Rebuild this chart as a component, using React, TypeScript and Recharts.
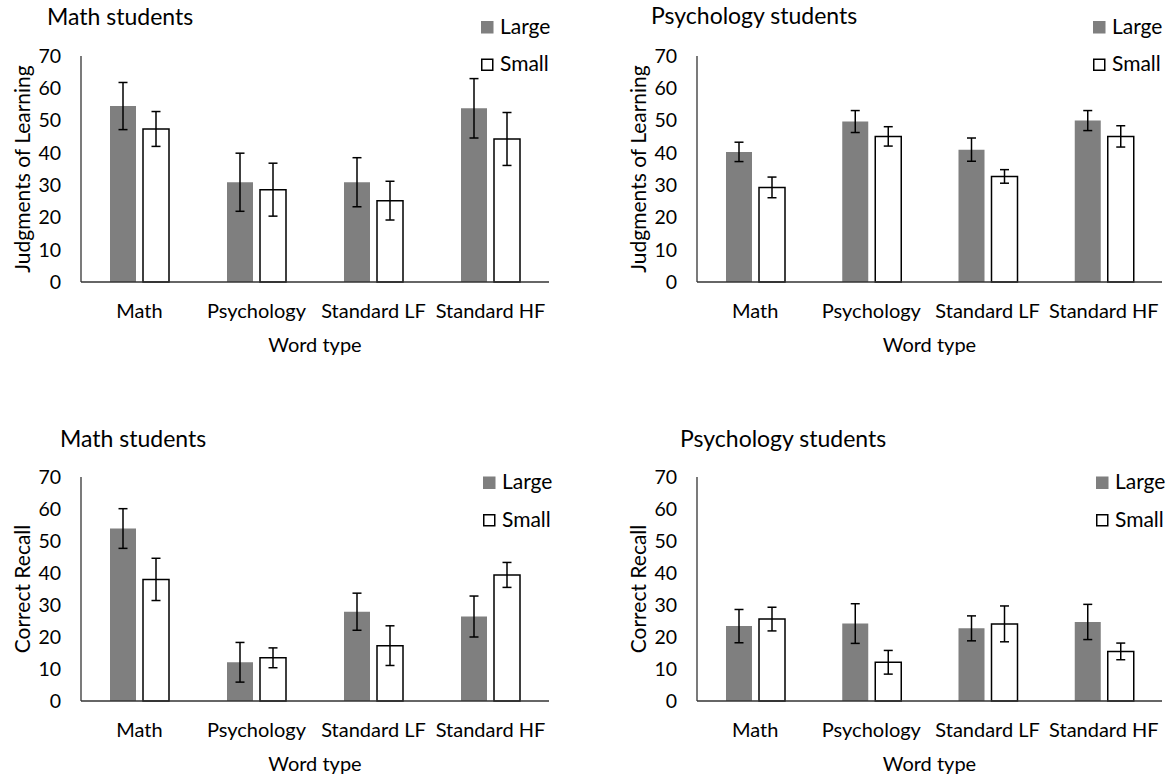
import { BarChart, Bar, XAxis, YAxis, ErrorBar } from 'recharts';

// Shared categories and axis ticks
const wordTypes = ['Math', 'Psychology', 'Standard LF', 'Standard HF'];
const yTicks = [0, 10, 20, 30, 40, 50, 60, 70];
const seriesNames = ['Large', 'Small'];

// Judgments of learning, math students
const jolMathLarge = [54.5, 30.9, 30.9, 53.8];
const jolMathLargeErr = [7.3, 9.0, 7.6, 9.2];
const jolMathSmall = [47.4, 28.6, 25.2, 44.3];
const jolMathSmallErr = [5.4, 8.2, 6.0, 8.2];

// Judgments of learning, psychology students
const jolPsychLarge = [40.3, 49.7, 41.0, 50.0];
const jolPsychLargeErr = [3.0, 3.4, 3.6, 3.1];
const jolPsychSmall = [29.3, 45.1, 32.7, 45.1];
const jolPsychSmallErr = [3.2, 3.0, 2.1, 3.3];

// Correct recall, math students
const recallMathLarge = [53.9, 12.1, 27.9, 26.4];
const recallMathLargeErr = [6.2, 6.2, 5.8, 6.4];
const recallMathSmall = [38.0, 13.5, 17.3, 39.4];
const recallMathSmallErr = [6.6, 3.1, 6.2, 3.9];

// Correct recall, psychology students
const recallPsychLarge = [23.4, 24.2, 22.7, 24.7];
const recallPsychLargeErr = [5.2, 6.2, 3.9, 5.5];
const recallPsychSmall = [25.6, 12.1, 24.1, 15.5];
const recallPsychSmallErr = [3.7, 3.7, 5.6, 2.6];

const FONT = 'Lato, "Open Sans", sans-serif';
const LARGE_FILL = '#7f7f7f';
const AXIS_COLOR = '#333';
const X_AXIS_HEIGHT = 30;

const buildRows = (large: number[], largeErr: number[], small: number[], smallErr: number[]) =>
  wordTypes.map((word, i) => ({
    word,
    large: large[i],
    largeErr: largeErr[i],
    small: small[i],
    smallErr: smallErr[i],
  }));

type Box = {
  left: number;
  top: number;
  width: number;
  height: number;
  plotLeft: number;
  plotTop: number;
  plotRight: number;
  plotBottom: number;
  titleX: number;
  titleY: number;
  legendX: number;
  legendY: number;
};

type PanelProps = {
  title: string;
  yLabel: string;
  rows: ReturnType<typeof buildRows>;
  box: Box;
};

const text = (size: number) => ({ fontFamily: FONT, fontSize: size, fill: '#000' });

const StudentPanel = ({ title, yLabel, rows, box }: PanelProps) => {
  const { left, top, width, height, plotLeft, plotTop, plotRight, plotBottom } = box;

  return (
    <div style={{ position: 'absolute', left, top, width, height }}>
      <BarChart
        width={width}
        height={height}
        data={rows}
        margin={{ top: plotTop, right: width - plotRight, bottom: height - plotBottom - X_AXIS_HEIGHT, left: 0 }}
        barSize={26}
        barGap={7}
      >
        <XAxis
          dataKey="word"
          interval={0}
          height={X_AXIS_HEIGHT}
          tickSize={0}
          tickMargin={22}
          tickLine={false}
          axisLine={{ stroke: AXIS_COLOR, strokeWidth: 1.3 }}
          tick={text(20)}
          label={(props: any) => {
            const vb = props.viewBox || {};
            return (
              <text x={vb.x + vb.width / 2} y={vb.y + 70} textAnchor="middle" style={text(20)}>
                Word type
              </text>
            );
          }}
        />
        <YAxis
          domain={[0, 70]}
          ticks={yTicks}
          width={plotLeft}
          tickSize={0}
          tickMargin={20}
          tickLine={false}
          axisLine={{ stroke: AXIS_COLOR, strokeWidth: 1.3 }}
          tick={text(19.5)}
          label={(props: any) => {
            const vb = props.viewBox || {};
            const cx = vb.x + vb.width - 60;
            const cy = vb.y + vb.height / 2;
            return (
              <text
                x={cx}
                y={cy}
                transform={`rotate(-90, ${cx}, ${cy})`}
                textAnchor="middle"
                dominantBaseline="central"
                style={text(21)}
              >
                {yLabel}
              </text>
            );
          }}
        />
        <Bar dataKey="large" name={seriesNames[0]} fill={LARGE_FILL} isAnimationActive={false}>
          <ErrorBar dataKey="largeErr" width={4.5} stroke="#000" strokeWidth={1.5} direction="y" />
        </Bar>
        <Bar dataKey="small" name={seriesNames[1]} fill="#fff" stroke="#000" strokeWidth={1.5} isAnimationActive={false}>
          <ErrorBar dataKey="smallErr" width={4.5} stroke="#000" strokeWidth={1.5} direction="y" />
        </Bar>
      </BarChart>
      <svg
        width={width}
        height={height}
        style={{ position: 'absolute', left: 0, top: 0, pointerEvents: 'none' }}
      >
        <text x={box.titleX} y={box.titleY} style={text(23)}>
          {title}
        </text>
        {seriesNames.map((name, i) => {
          const y = box.legendY + i * 37.5;
          return (
            <g key={name}>
              {i === 0 ? (
                <rect x={box.legendX} y={y} width={12.5} height={12.5} fill={LARGE_FILL} />
              ) : (
                <rect x={box.legendX + 0.75} y={y + 0.75} width={11} height={11} fill="#fff" stroke="#000" strokeWidth={1.5} />
              )}
              <text x={box.legendX + 19} y={y + 12.5} style={text(21)}>
                {name}
              </text>
            </g>
          );
        })}
      </svg>
    </div>
  );
};

export default function App() {
  return (
    <div style={{ position: 'absolute', left: 0, top: 0, width: 1175, height: 775, background: '#fff' }}>
      <StudentPanel
        title="Math students"
        yLabel="Judgments of Learning"
        rows={buildRows(jolMathLarge, jolMathLargeErr, jolMathSmall, jolMathSmallErr)}
        box={{ left: 0, top: 0, width: 580, height: 360, plotLeft: 81, plotTop: 56, plotRight: 549, plotBottom: 282, titleX: 47, titleY: 25, legendX: 481, legendY: 21 }}
      />
      <StudentPanel
        title="Psychology students"
        yLabel="Judgments of Learning"
        rows={buildRows(jolPsychLarge, jolPsychLargeErr, jolPsychSmall, jolPsychSmallErr)}
        box={{ left: 590, top: 0, width: 585, height: 360, plotLeft: 107, plotTop: 56, plotRight: 572, plotBottom: 282, titleX: 61, titleY: 24, legendX: 503, legendY: 21 }}
      />
      <StudentPanel
        title="Math students"
        yLabel="Correct Recall"
        rows={buildRows(recallMathLarge, recallMathLargeErr, recallMathSmall, recallMathSmallErr)}
        box={{ left: 0, top: 420, width: 580, height: 355, plotLeft: 81, plotTop: 57, plotRight: 549, plotBottom: 281, titleX: 60, titleY: 27, legendX: 483, legendY: 56.5 }}
      />
      <StudentPanel
        title="Psychology students"
        yLabel="Correct Recall"
        rows={buildRows(recallPsychLarge, recallPsychLargeErr, recallPsychSmall, recallPsychSmallErr)}
        box={{ left: 590, top: 420, width: 585, height: 355, plotLeft: 107, plotTop: 57, plotRight: 572, plotBottom: 281, titleX: 90, titleY: 27, legendX: 506, legendY: 56.5 }}
      />
    </div>
  );
}
